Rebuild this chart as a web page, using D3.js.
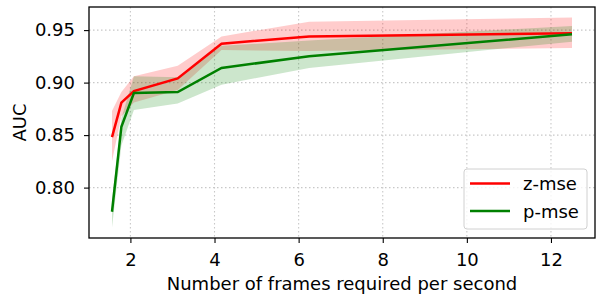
<!DOCTYPE html>
<html>
<head>
<meta charset="utf-8">
<script src="https://cdn.jsdelivr.net/npm/d3@7"></script>
<style>
  body { margin: 0; background: #fff; }
  text { font-family: "DejaVu Sans", sans-serif; }
</style>
</head>
<body>
<div class="canva"></div>
<script>
// frames per second (25 / n)
const fps = [25/16, 25/14, 25/12, 25/8, 25/6, 25/4, 25/2];

const zMean  = [0.848, 0.881, 0.892, 0.904, 0.937, 0.944, 0.947];
const zLow   = [0.825, 0.868, 0.881, 0.893, 0.931, 0.930, 0.933];
const zHigh  = [0.873, 0.891, 0.906, 0.916, 0.944, 0.958, 0.962];

const pMean  = [0.777, 0.858, 0.890, 0.891, 0.914, 0.925, 0.946];
const pLow   = [0.762, 0.840, 0.874, 0.880, 0.898, 0.914, 0.939];
const pHigh  = [0.788, 0.866, 0.906, 0.905, 0.935, 0.940, 0.954];

const xTicks = [2, 4, 6, 8, 10, 12];
const yTicks = [0.80, 0.85, 0.90, 0.95];

const width = 596, height = 294;
const margin = {top: 7, right: 1, bottom: 56, left: 89};

const svg = d3.select(".canva").append("svg")
    .attr("width", width)
    .attr("height", height);

// matplotlib style 5% padding
function padded(lo, hi) {
  const p = (hi - lo) * 0.05;
  return [lo - p, hi + p];
}

const x = d3.scaleLinear()
    .domain(padded(d3.min(fps), d3.max(fps)))
    .range([margin.left, width - margin.right]);

const y = d3.scaleLinear()
    .domain(padded(d3.min(pLow), d3.max(zHigh)))
    .range([height - margin.bottom, margin.top]);

const fontSize = 18;

// grid
const grid = svg.append("g");
grid.selectAll(".gx").data(xTicks).enter().append("line")
    .attr("x1", d => x(d)).attr("x2", d => x(d))
    .attr("y1", margin.top).attr("y2", height - margin.bottom)
    .attr("stroke", "#c8c8c8").attr("stroke-width", 1.1)
    .attr("stroke-dasharray", "1.5,2.5");
grid.selectAll(".gy").data(yTicks).enter().append("line")
    .attr("y1", d => y(d)).attr("y2", d => y(d))
    .attr("x1", margin.left).attr("x2", width - margin.right)
    .attr("stroke", "#c8c8c8").attr("stroke-width", 1.1)
    .attr("stroke-dasharray", "1.5,2.5");

const idx = d3.range(fps.length);

const area = (lo, hi) => d3.area()
    .x(i => x(fps[i]))
    .y0(i => y(lo[i]))
    .y1(i => y(hi[i]));

const line = (m) => d3.line()
    .x(i => x(fps[i]))
    .y(i => y(m[i]));

svg.append("path").attr("d", area(zLow, zHigh)(idx))
    .attr("fill", "red").attr("fill-opacity", 0.2);
svg.append("path").attr("d", area(pLow, pHigh)(idx))
    .attr("fill", "green").attr("fill-opacity", 0.2);

svg.append("path").attr("d", line(zMean)(idx))
    .attr("fill", "none").attr("stroke", "red").attr("stroke-width", 2.5);
svg.append("path").attr("d", line(pMean)(idx))
    .attr("fill", "none").attr("stroke", "green").attr("stroke-width", 2.5);

// axes
const xAxis = svg.append("g")
    .attr("transform", `translate(0,${height - margin.bottom})`)
    .call(d3.axisBottom(x).tickValues(xTicks).tickFormat(d3.format("d")).tickSizeOuter(0).tickSize(5).tickPadding(10));
const yAxis = svg.append("g")
    .attr("transform", `translate(${margin.left},0)`)
    .call(d3.axisLeft(y).tickValues(yTicks).tickFormat(d3.format(".2f")).tickSizeOuter(0).tickSize(5).tickPadding(9));

[xAxis, yAxis].forEach(a => {
  a.select(".domain").remove();
  a.selectAll("line").attr("stroke", "#000").attr("stroke-width", 1.1);
  a.selectAll("text").attr("font-size", fontSize).attr("fill", "#000")
    .attr("font-family", "DejaVu Sans");
});

// frame
svg.append("rect")
    .attr("x", margin.left).attr("y", margin.top)
    .attr("width", width - margin.left - margin.right)
    .attr("height", height - margin.top - margin.bottom)
    .attr("fill", "none").attr("stroke", "#000").attr("stroke-width", 1.3);

// labels
svg.append("text")
    .attr("x", (margin.left + width - margin.right) / 2)
    .attr("y", 290)
    .attr("text-anchor", "middle")
    .attr("font-size", fontSize)
    .text("Number of frames required per second");

svg.append("text")
    .attr("transform", `translate(26,${(margin.top + height - margin.bottom) / 2}) rotate(-90)`)
    .attr("text-anchor", "middle")
    .attr("font-size", fontSize)
    .text("AUC");

// legend
const legend = svg.append("g");
legend.append("rect")
    .attr("x", 464).attr("y", 169).attr("width", 123).attr("height", 60)
    .attr("rx", 3)
    .attr("fill", "#fff").attr("fill-opacity", 0.8)
    .attr("stroke", "#d0d0d0").attr("stroke-width", 1);

const legendItems = [["z-mse", "red"], ["p-mse", "green"]];
legendItems.forEach(([name, col], i) => {
  const ly = 183.5 + i * 27.5;
  legend.append("line")
      .attr("x1", 470).attr("x2", 510)
      .attr("y1", ly).attr("y2", ly)
      .attr("stroke", col).attr("stroke-width", 2.5);
  legend.append("text")
      .attr("x", 523).attr("y", ly + 6.5)
      .attr("font-size", fontSize)
      .text(name);
});
</script>
</body>
</html>
